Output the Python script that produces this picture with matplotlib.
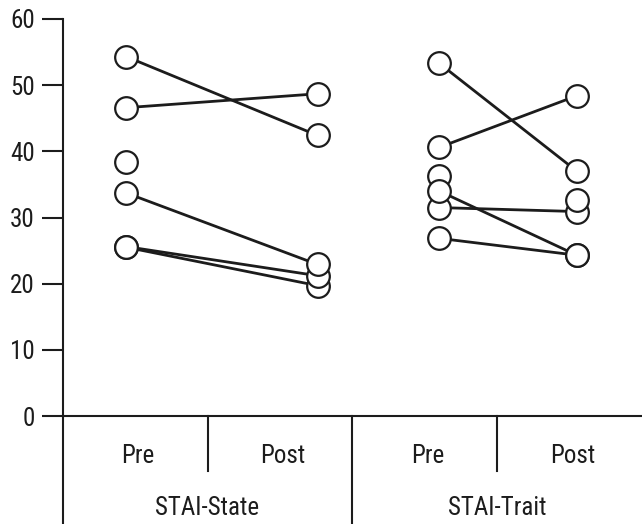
import numpy as np
import matplotlib
matplotlib.use("Agg")
import matplotlib.pyplot as plt
from matplotlib import font_manager
from matplotlib.lines import Line2D

# Condensed sans for all labels
installed = {f.name for f in font_manager.fontManager.ttflist}
font = next((f for f in ['Roboto Condensed', 'Barlow Semi Condensed', 'DejaVu Sans']
             if f in installed), 'DejaVu Sans')
plt.rcParams['font.family'] = [font, 'DejaVu Sans']

nan = np.nan

# STAI scores per participant (nan = no matching measurement)
state_pre = [54.3, 46.6, 38.4, 25.5, 25.6, 33.7]
state_post = [42.4, 48.7, nan, 19.7, 21.2, 22.9]
trait_pre = [53.3, 40.6, 36.2, 31.5, 26.85, 34.0, nan]
trait_post = [37.0, 48.4, nan, 30.9, 24.3, 24.3, 32.7]

sub_labels = ['Pre', 'Post', 'Pre', 'Post']
group_labels = ['STAI-State', 'STAI-Trait']
y_ticks = [0, 10, 20, 30, 40, 50, 60]

ink = '#1c1c1c'
W, H = 642, 524
fig = plt.figure(figsize=(W / 100, H / 100), dpi=100)
ax = fig.add_axes([62.7 / W, (H - 416) / H, (W - 62.7) / W, 397 / H])

# x positions of the point columns
x_state = (0.44, 1.76)
x_trait = (2.60, 3.55)

for (x0, x1), pre, post in [(x_state, state_pre, state_post),
                            (x_trait, trait_pre, trait_post)]:
    for a, b in zip(pre, post):
        if not (np.isnan(a) or np.isnan(b)):
            ax.plot([x0, x1], [a, b], color=ink, lw=2.0, zorder=2,
                    solid_capstyle='butt')
    for x, vals in [(x0, pre), (x1, post)]:
        for v in vals:
            if not np.isnan(v):
                ax.plot(x, v, 'o', ms=16.3, mfc='white', mec=ink, mew=1.6,
                        zorder=3)

ax.set_xlim(0, 4)
ax.set_ylim(0, 60)
ax.set_yticks(y_ticks)
ax.set_xticks([])
ax.tick_params(axis='y', direction='out', length=15, width=1.5, color=ink,
               labelsize=18, labelcolor=ink, pad=5)
for s in ['top', 'right']:
    ax.spines[s].set_visible(False)
for s in ['left', 'bottom']:
    ax.spines[s].set_linewidth(1.5)
    ax.spines[s].set_color(ink)

# category table under the axis
tr = ax.get_xaxis_transform()
low = -108 / 397
mid = -55 / 397
for x, y0 in [(0, low), (1, mid), (2, low), (3, mid)]:
    ax.add_line(Line2D([x, x], [0, y0], transform=tr, color=ink, lw=1.5,
                       clip_on=False))
for i, lab in enumerate(sub_labels):
    ax.text(i + 0.52, -40 / 397, lab, transform=tr, ha='center', va='center',
            fontsize=18, color=ink)
for i, lab in enumerate(group_labels):
    ax.text(1 + 2 * i, -92 / 397, lab, transform=tr, ha='center',
            va='center', fontsize=18, color=ink)

fig.savefig('out.png', dpi=100)
